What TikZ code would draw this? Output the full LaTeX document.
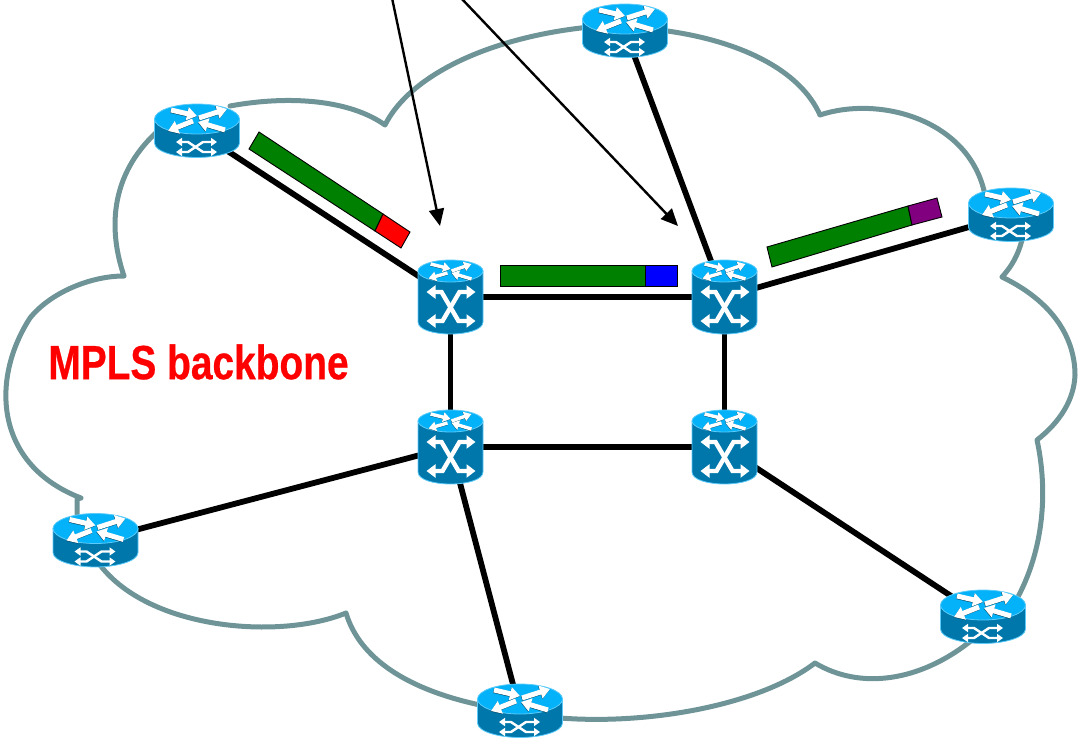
\documentclass[tikz,border=0pt]{standalone}
\usepackage{fontspec}
\setmainfont{Liberation Sans}
\usetikzlibrary{arrows.meta}
\definecolor{cloudc}{HTML}{6E9497}
\definecolor{topc}{HTML}{03B2F8}
\definecolor{rimc}{HTML}{5CCBFA}
\definecolor{bodyc}{HTML}{0077AA}
\definecolor{shadec}{HTML}{00415F}
\definecolor{barg}{HTML}{008000}
\definecolor{barp}{HTML}{800080}
\tikzset{
  x=1pt,y=-1pt,
  anchorpt/.style={inner sep=0pt,minimum size=1pt},
  link/.style={line width=5.8pt,black},
  callout/.style={line width=2.4pt,black,-{Triangle[width=15pt,length=17pt]}},
  cloudline/.style={line width=5pt,cloudc,line join=round,line cap=round},
  tiny arrow/.style={white,line width=5pt,-{Triangle[width=13pt,length=10pt]}},
  tiny shade/.style={shadec,line width=5pt,shift={(-.3,.5)},-{Triangle[width=13pt,length=10pt]}},
  small arrow/.style={white,line width=3.4pt,-{Triangle[width=9.5pt,length=7.5pt]}},
  small shade/.style={shadec,line width=3.4pt,shift={(-.2,.4)},-{Triangle[width=9.5pt,length=7.5pt]}},
  cross arrow/.style={white,line width=2.4pt,line join=miter,{Triangle[width=8pt,length=6pt]}-{Triangle[width=8pt,length=6pt]}},
  big arrow/.style={white,line width=4.4pt,line join=miter,{Triangle[width=13pt,length=9pt]}-{Triangle[width=13pt,length=9pt]}},
  barbox/.style={draw=black,line width=.9pt,line join=miter},
  router/.pic={
    \filldraw[draw=rimc,line width=.8pt,fill=bodyc] (-42.5,-12) -- (-42.5,12) .. controls (-42.5,21) and (-20,26.5) .. (0,26.5) .. controls (20,26.5) and (42.5,21) .. (42.5,12) -- (42.5,-12) -- cycle;
    \filldraw[draw=rimc,line width=.8pt,fill=topc] (0,-12) ellipse [x radius=42.5,y radius=15];
    \foreach \st in {tiny shade,tiny arrow}{
      \draw[\st] (-26,-21) -- (0,-15);
      \draw[\st] (2,-13) -- (30,-22);
      \draw[\st] (-4,-10) -- (-29,0);
      \draw[\st] (28,-1) -- (1,-9);
    }
    \draw[cross arrow] (-21,11) -- (-9,11) -- (6,21) -- (20,21);
    \draw[cross arrow] (-21,21) -- (-9,21) -- (6,11) -- (20,11);
  },
  switchbox/.pic={
    \filldraw[draw=rimc,line width=.8pt,fill=bodyc] (-32.5,-26) -- (-32.5,25) .. controls (-32.5,33) and (-16,37) .. (0,37) .. controls (16,37) and (32.5,33) .. (32.5,25) -- (32.5,-26) -- cycle;
    \filldraw[draw=rimc,line width=.8pt,fill=topc] (0,-26) ellipse [x radius=32.5,y radius=11];
    \foreach \st in {small shade,small arrow}{
      \draw[\st] (-20,-33) -- (0,-28);
      \draw[\st] (1,-26) -- (21,-33);
      \draw[\st] (-3,-24) -- (-22,-18.5);
      \draw[\st] (21,-18) -- (1,-24);
    }
    \draw[big arrow] (-24,-5) -- (-9,-5) -- (8,24) -- (25,24);
    \draw[big arrow] (-24,24) -- (-8,24) -- (9,-5) -- (25,-5);
  },
}
\begin{document}
\begin{tikzpicture}
\useasboundingbox (0,0) rectangle (1079,738);
% cloud
\draw[cloudline]
  (385,125) .. controls (410,75) and (490,37) .. (590,27)
  (660,30) .. controls (740,40) and (800,70) .. (820,115)
  (820,115) .. controls (880,95) and (970,120) .. (985,195)
  (1022,240) .. controls (1018,255) and (1012,266) .. (1002,277)
  (1002,277) .. controls (1060,305) and (1075,345) .. (1075,375) .. controls (1074,400) and (1060,422) .. (1037,440)
  (1037,440) .. controls (1050,500) and (1042,570) .. (1000,625)
  (972,640) .. controls (920,682) and (860,690) .. (815,663)
  (815,663) .. controls (760,705) and (650,725) .. (560,718)
  (480,705) .. controls (410,690) and (360,660) .. (346,613)
  (346,613) .. controls (280,640) and (150,630) .. (100,565)
  (81,498) .. controls (-5,465) and (-10,380) .. (30,318) .. controls (50,293) and (90,276) .. (124,276)
  (81,498) -- (77,499) -- (77,525)
  (124,276) .. controls (105,220) and (115,165) .. (165,125)
  (230,106) .. controls (290,95) and (350,100) .. (385,125);
% nodes
\node[anchorpt] (r1) at (197,131) {};
\node[anchorpt] (r2) at (625,31) {};
\node[anchorpt] (r3) at (1011,215) {};
\node[anchorpt] (r4) at (95.5,540.5) {};
\node[anchorpt] (r5) at (983,617) {};
\node[anchorpt] (r6) at (520,711) {};
\node[anchorpt] (s1) at (450.5,297) {};
\node[anchorpt] (s2) at (724.5,297) {};
\node[anchorpt] (s3) at (450.5,447) {};
\node[anchorpt] (s4) at (724.5,447) {};
% links
\draw[link] (r1.center) -- (s1.center);
\draw[link] (r2.center) -- (s2.center);
\draw[link] (r3.center) -- (s2.center);
\draw[link] (r4.center) -- (s3.center);
\draw[link] (r5.center) -- (s4.center);
\draw[link] (r6.center) -- (s3.center);
\draw[link] (s1.center) -- (s2.center);
\draw[link] (s1.center) -- (s3.center);
\draw[link] (s2.center) -- (s4.center);
\draw[link] (s3.center) -- (s4.center);
% devices
\foreach \n in {r1,r2,r3,r4,r5,r6} \pic at (\n) {router};
\foreach \n in {s1,s2,s3,s4} \pic at (\n) {switchbox};
% callouts
\coordinate (c1) at (392,-2);
\coordinate (c2) at (461,-2);
\coordinate (t1) at (440,226);
\coordinate (t2) at (678,226);
\draw[callout] (c1) -- (t1);
\draw[callout] (c2) -- (t2);
% bars
\filldraw[barbox,fill=barg] (259,132) -- (383,214) -- (375,231) -- (249,149) -- cycle;
\filldraw[barbox,fill=red] (383,214) -- (410,232) -- (401,248) -- (375,231) -- cycle;
\filldraw[barbox,fill=barg] (500,265) rectangle (645,286);
\filldraw[barbox,fill=blue] (645,265) rectangle (677,286);
\filldraw[barbox,fill=barg] (767,247) -- (908,206) -- (912,225) -- (772,267) -- cycle;
\filldraw[barbox,fill=barp] (908,206) -- (937,198) -- (942,217) -- (912,225) -- cycle;
% label
\node[text=red,font=\bfseries\fontsize{48}{50}\selectfont\addfontfeature{FakeBold=0.6},anchor=center,inner sep=0pt] (lab) at (198.5,362) {\scalebox{.81}[1]{MPLS backbone}};
\end{tikzpicture}
\end{document}
